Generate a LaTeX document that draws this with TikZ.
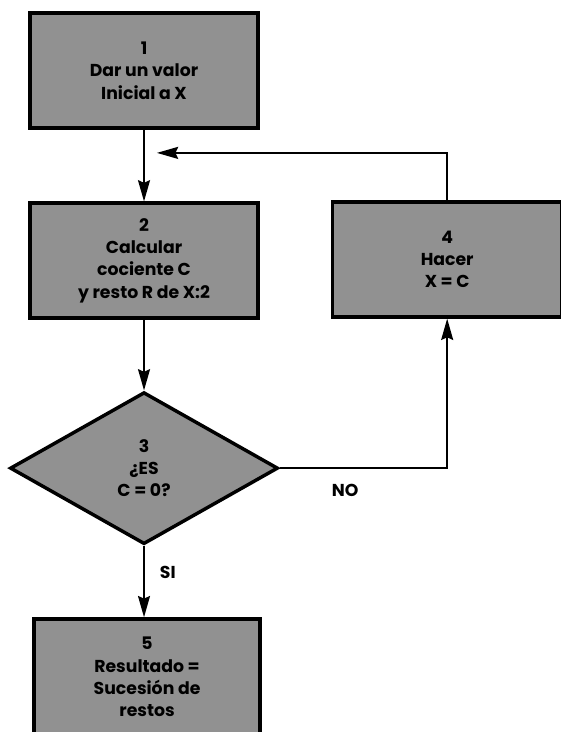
\documentclass[tikz,border=0pt]{standalone}
\usepackage{fontspec}
\setmainfont{Poppins}[BoldFont={Poppins Bold}]
\usepackage{tikz}
\usetikzlibrary{arrows.meta}
\usetikzlibrary{positioning,shapes.geometric}
\usepackage{xcolor}
\definecolor{boxgray}{RGB}{145,145,145}
\tikzset{
    stepbox/.style={
        draw=black,
        rectangle,
        fill=boxgray,
        line width=2.6pt,
        minimum width=6.03cm,
        minimum height=3.04cm,
        inner sep=2pt,
        align=center,
        font=\bfseries\fontsize{13}{16.8}\selectfont
    },
    question/.style={
        draw=black,
        diamond,
        fill=boxgray,
        line width=2.6pt,
        shape aspect=1.76,
        minimum width=7.09cm,
        minimum height=4.02cm,
        inner sep=0pt,
        align=center,
        font=\bfseries\fontsize{13}{16.8}\selectfont
    },
    flow/.style={
        draw=black,
        line width=1.5pt,
        -{Stealth[length=16pt, width=9pt, inset=2pt]}
    },
    answer/.style={
        font=\bfseries\fontsize{13}{15}\selectfont
    }
}

\begin{document}
\begin{tikzpicture}
  \useasboundingbox[fill=white] (0,0) rectangle (14.815,19.365);

  % Nodes
  \node[stepbox] (s1) at (3.81,17.50) {1\\Dar un valor\\Inicial a X};
  \node[stepbox] (s2) at (3.81,12.47) {2\\Calcular\\cociente C\\y resto R de X:2};
  \node[question] (s3) at (3.81,6.98) {3\\¿ES\\C = 0?};
  \node[stepbox, minimum width=6.08cm] (s4) at (11.83,12.50) {4\\Hacer\\X = C};
  \node[stepbox, minimum width=5.98cm, minimum height=3.07cm] (s5) at (3.89,1.455) {5\\Resultado =\\Sucesión de\\restos};
  \coordinate (back) at (4.15,15.32);

  % Edges
  \draw[flow] (s1) -- (s2);
  \draw[flow] (s2) -- (s3);
  \draw[flow] (s3.east) -- (s3.east -| s4.south) -- (s4.south);
  \draw[flow] (s4.north) |- (back);
  \draw[flow] (s3.south) -- (s3.south |- s5.north);

  % Answers
  \node[answer] (no) at (9.13,6.38) {NO};
  \node[answer] (si) at (4.44,4.21) {SI};
\end{tikzpicture}
\end{document}
